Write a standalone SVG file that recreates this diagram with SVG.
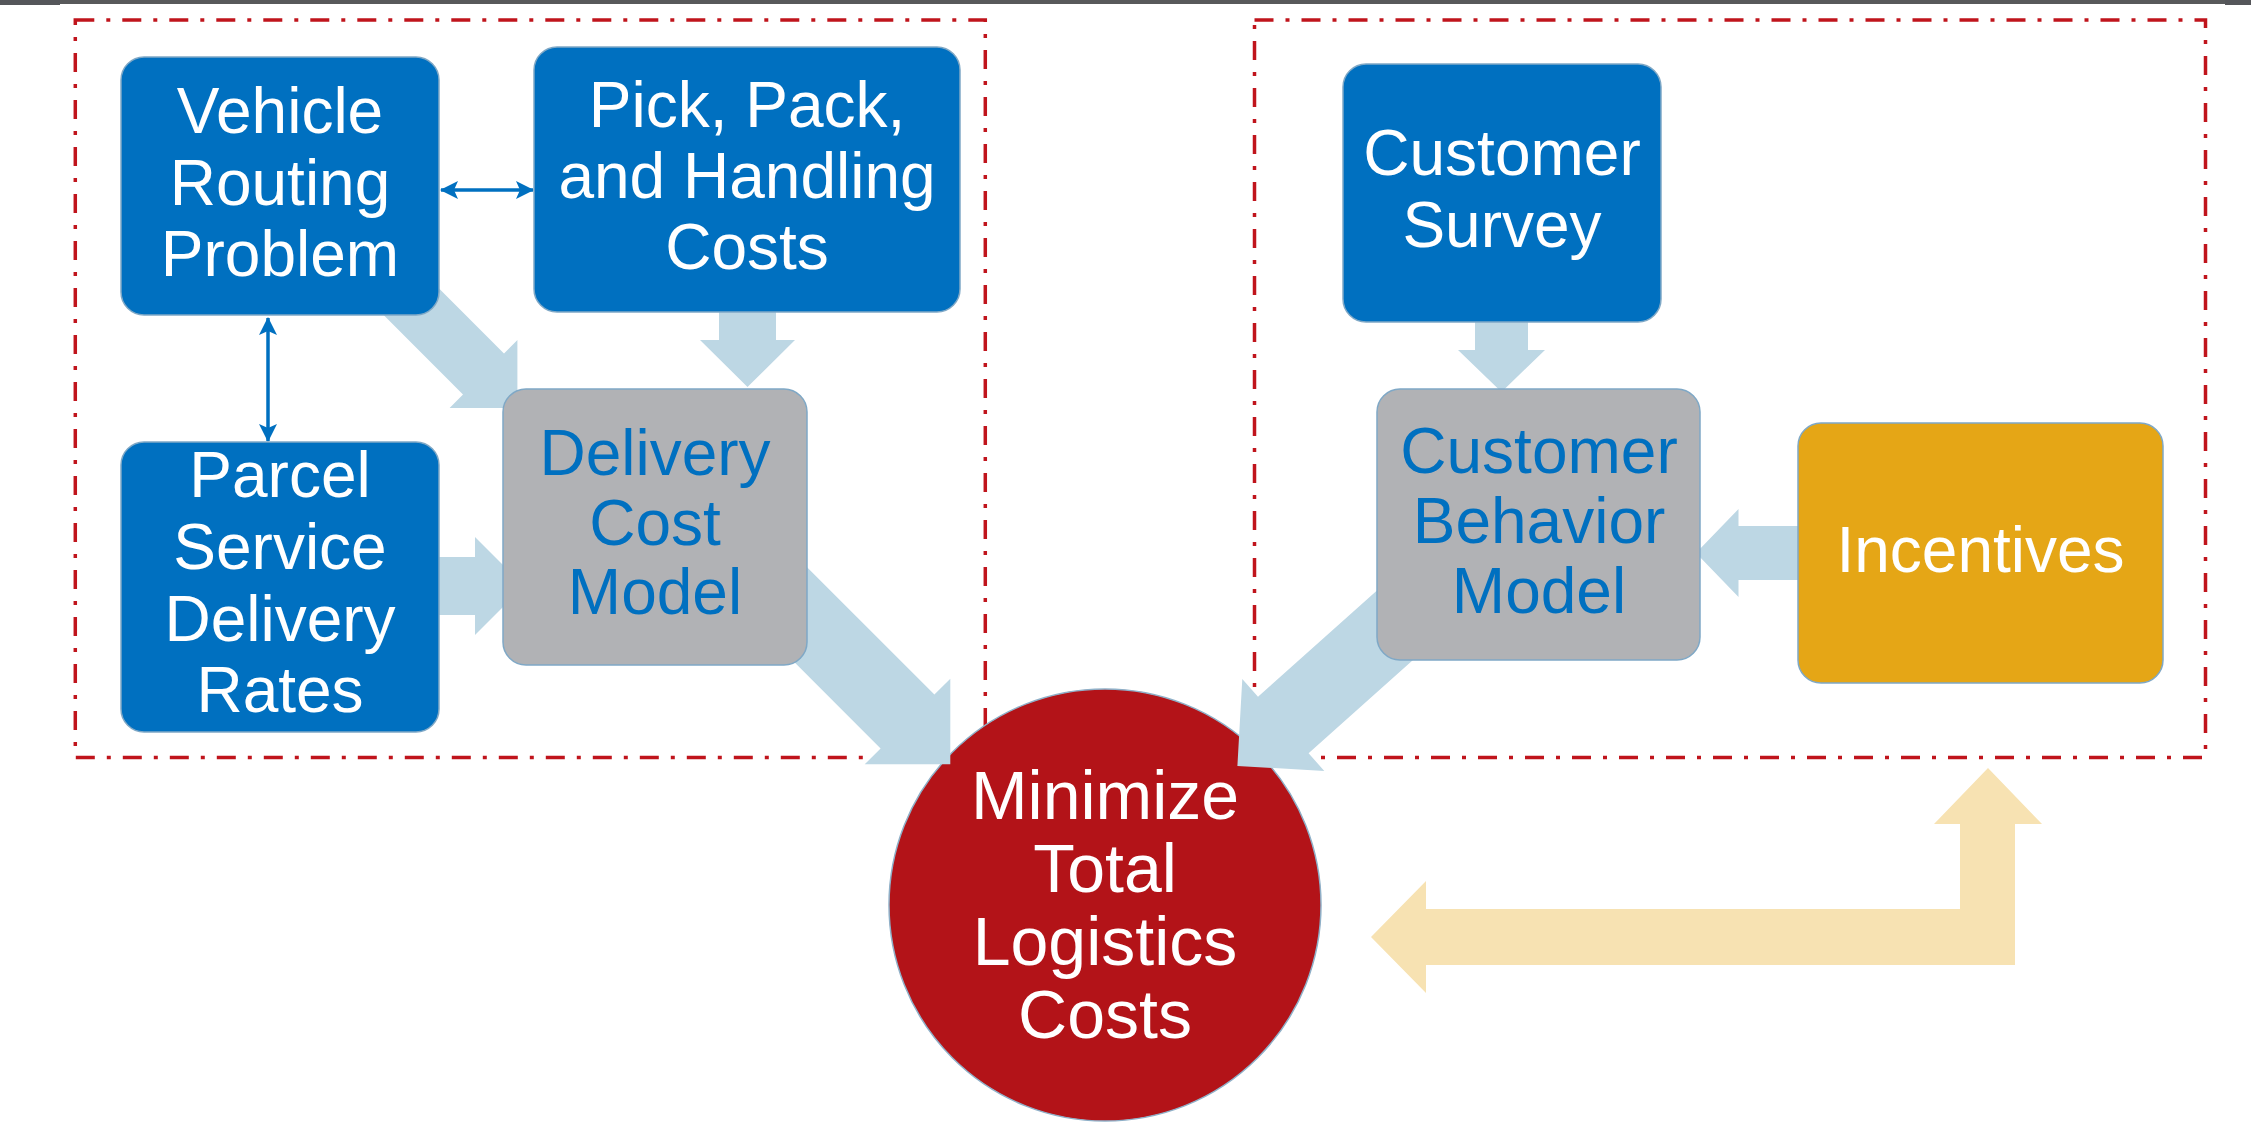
<svg xmlns="http://www.w3.org/2000/svg" width="2251" height="1125" viewBox="0 0 2251 1125">
  <style>
    .frame { fill: none; stroke: #C0141C; stroke-width: 3.5; stroke-dasharray: 19 12 4 12; }
    .box { stroke: #7FA8C6; stroke-width: 1.5; }
    .blue { fill: #0070C0; }
    .grey { fill: #B1B2B5; }
    .gold { fill: #E5A616; }
    .flow { fill: #BDD7E4; }
    .back { fill: #F7E2B2; }
    .link { stroke: #0070C0; stroke-width: 3.5; fill: none; marker-start: url(#tip); marker-end: url(#tip); }
    text { font-family: "Liberation Sans", Arial, sans-serif; font-size: 64px; text-anchor: middle; }
    .w { fill: #FFFFFF; }
    .b { fill: #0070C0; }
    .big { font-size: 68px; }
  </style>
  <defs>
    <marker id="tip" viewBox="0 0 18 18" refX="17" refY="9" markerWidth="18" markerHeight="18" markerUnits="userSpaceOnUse" orient="auto-start-reverse">
      <path d="M0,0 L18,9 L0,18 L4,9 Z" fill="#0070C0"/>
    </marker>
  </defs>

  <rect width="2251" height="1125" fill="#FFFFFF"/>
  <!-- top rule -->
  <rect x="0" y="0" width="2251" height="4" fill="#58595B"/>
  <rect x="0" y="0" width="60" height="5" fill="#55565A"/>
  <rect x="2225" y="0" width="26" height="5" fill="#55565A"/>

  <!-- grouping frames -->
  <g id="frames">
    <rect class="frame" x="75.3" y="20" width="910" height="737.5"/>
    <rect class="frame" x="1254.5" y="20" width="951" height="737.5"/>
  </g>

  <!-- goal -->
  <g id="goal">
    <circle cx="1105" cy="905" r="216" fill="#B31318" stroke="#8FB0C8" stroke-width="1.5"/>
    <text class="w big" x="1105" y="819">Minimize</text>
    <text class="w big" x="1105" y="892">Total</text>
    <text class="w big" x="1105" y="965">Logistics</text>
    <text class="w big" x="1105" y="1038">Costs</text>
  </g>

  <!-- block arrows -->
  <g id="connectors">
    <polygon class="flow" points="415.6,265.1 504,353.5 517.4,340.1 517.4,407.9 449.6,407.9 463,394.5 374.6,306.1"/>
    <polygon class="flow" points="719,300 776,300 776,340 795,340 747.5,387 700,340 719,340"/>
    <polygon class="flow" points="420,557 475,557 475,537 524,586 475,635 475,615 420,615"/>
    <polygon class="flow" points="778.8,539 934.4,694.6 950.3,678.7 950.3,764.3 864.7,764.3 880.6,748.4 725,592.8"/>
    <polygon class="flow" points="1407.2,563.5 1258,696.7 1242.3,679.1 1237.4,766 1324.3,770.9 1308.6,753.3 1457.8,620.1"/>
    <polygon class="flow" points="1475,300 1528,300 1528,350 1545,350 1501.5,392 1458,350 1475,350"/>
    <polygon class="flow" points="1820,526 1738.5,526 1738.5,509 1696,553 1738.5,597 1738.5,580 1820,580"/>
    <polygon class="back" points="1371,937 1426,881 1426,909 1960,909 1960,824 1934,824 1988,768 2042,824 2015,824 2015,965 1426,965 1426,993"/>
    <line class="link" x1="441" y1="190" x2="533" y2="190"/>
    <line class="link" x1="268" y1="318" x2="268" y2="441"/>
  </g>

  <g id="vehicle-routing">
    <rect class="box blue" x="121" y="57" width="318" height="258" rx="23"/>
    <text class="w" x="280" y="133">Vehicle</text>
    <text class="w" x="280" y="205">Routing</text>
    <text class="w" x="280" y="276">Problem</text>
  </g>

  <g id="pick-pack">
    <rect class="box blue" x="534" y="47" width="426" height="265" rx="23"/>
    <text class="w" x="747" y="127">Pick, Pack,</text>
    <text class="w" x="747" y="198">and Handling</text>
    <text class="w" x="747" y="269">Costs</text>
  </g>

  <g id="parcel-rates">
    <rect class="box blue" x="121" y="442" width="318" height="290" rx="23"/>
    <text class="w" x="280" y="497">Parcel</text>
    <text class="w" x="280" y="569">Service</text>
    <text class="w" x="280" y="641">Delivery</text>
    <text class="w" x="280" y="712">Rates</text>
  </g>

  <g id="delivery-cost-model">
    <rect class="box grey" x="503" y="389" width="304" height="276" rx="23"/>
    <text class="b" x="655" y="475">Delivery</text>
    <text class="b" x="655" y="545">Cost</text>
    <text class="b" x="655" y="614">Model</text>
  </g>

  <g id="customer-survey">
    <rect class="box blue" x="1343" y="64" width="318" height="258" rx="23"/>
    <text class="w" x="1502" y="175">Customer</text>
    <text class="w" x="1502" y="247">Survey</text>
  </g>

  <g id="customer-behavior-model">
    <rect class="box grey" x="1377" y="389" width="323" height="271" rx="23"/>
    <text class="b" x="1539" y="473">Customer</text>
    <text class="b" x="1539" y="543">Behavior</text>
    <text class="b" x="1539" y="613">Model</text>
  </g>

  <g id="incentives">
    <rect class="box gold" x="1798" y="423" width="365" height="260" rx="23"/>
    <text class="w" x="1980.5" y="572">Incentives</text>
  </g>
</svg>
